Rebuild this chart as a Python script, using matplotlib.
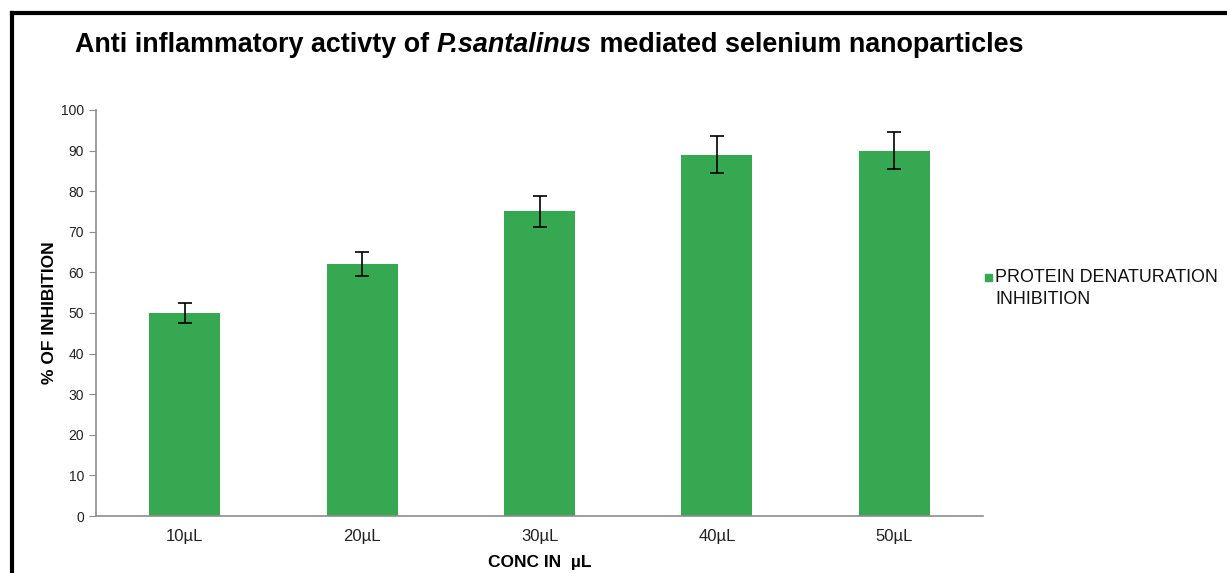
import matplotlib

matplotlib.use("Agg")
import matplotlib.pyplot as plt  # noqa: E402
from matplotlib.lines import Line2D  # noqa: E402
from matplotlib.patches import Rectangle  # noqa: E402

plt.rcParams["font.family"] = ["Liberation Sans", "DejaVu Sans"]

concentrations = ["10µL", "20µL", "30µL", "40µL", "50µL"]
inhibition = [50, 62, 75, 89, 90]
inhibition_err = [2.5, 3.0, 3.7, 4.5, 4.5]
series_label = "PROTEIN DENATURATION\nINHIBITION"
y_ticks = list(range(0, 101, 10))

bar_color = "#36A852"
axis_grey = "#8c8c8c"
W, H = 1227, 573

fig = plt.figure(figsize=(W / 100, H / 100), dpi=100)
ax = fig.add_axes([96 / W, 1 - 516 / H, (983 - 96) / W, (516 - 110) / H])

positions = range(len(concentrations))
ax.bar(positions, inhibition, width=0.4, color=bar_color,
       yerr=inhibition_err, error_kw={"ecolor": "black", "elinewidth": 1.2,
                                      "capsize": 5, "capthick": 1.2})
ax.set_xlim(-0.5, len(concentrations) - 0.5)
ax.set_ylim(0, 100)
ax.set_yticks(y_ticks)
ax.set_xticks(list(positions))
ax.set_xticklabels(concentrations, fontsize=12, color="#222222")
ax.tick_params(axis="x", length=0, pad=9)
ax.tick_params(axis="y", labelsize=10, length=5, color=axis_grey, labelcolor="#222222")
for side in ("top", "right"):
    ax.spines[side].set_visible(False)
for side in ("left", "bottom"):
    ax.spines[side].set_color(axis_grey)
    ax.spines[side].set_linewidth(1.2)

ax.set_ylabel("% OF INHIBITION", fontsize=12.5, fontweight="bold", labelpad=3)
ax.set_xlabel("CONC IN  µL", fontsize=12.5, fontweight="bold", labelpad=8)

# legend drawn by hand: marker sits beside the first line, as in the original
fig.add_artist(Rectangle((985 / W, 1 - 281 / H), 7 / W, 7 / H,
                         transform=fig.transFigure, color=bar_color))
fig.text(995 / W, 1 - 269 / H, series_label, fontsize=12.9, color="#111111",
         ha="left", va="top", linespacing=1.4)

# title in three pieces so the species name can be italic
renderer = fig.canvas.get_renderer()
x_px = 75
title_y = 1 - 52 / H
for piece, style in [("Anti inflammatory activty of ", "normal"),
                     ("P.santalinus", "italic"),
                     (" mediated selenium nanoparticles", "normal")]:
    t = fig.text(x_px / W, title_y, piece, fontsize=19.4, fontweight="bold",
                 style=style, ha="left", va="baseline")
    x_px += t.get_window_extent(renderer).width

# black frame around the figure (top and left edges visible)
fig.add_artist(Line2D([12 / W, 1], [1 - 13 / H, 1 - 13 / H],
                      transform=fig.transFigure, color="black", lw=3))
fig.add_artist(Line2D([12 / W, 12 / W], [0, 1 - 13 / H],
                      transform=fig.transFigure, color="black", lw=3))

fig.savefig("out.png", dpi=100)
plt.close(fig)
